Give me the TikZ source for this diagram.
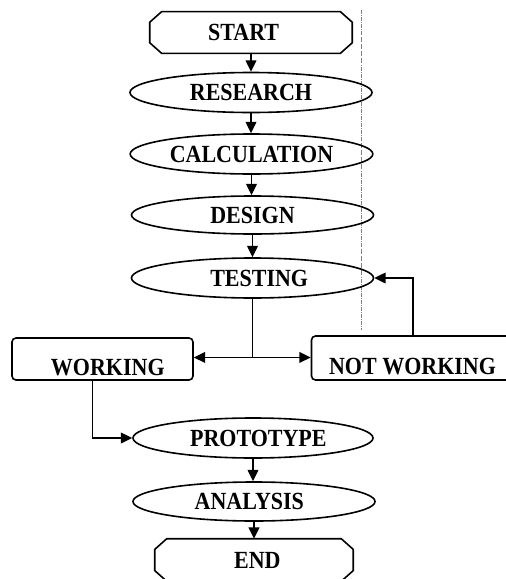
\documentclass[tikz,border=0pt]{standalone}
\usepackage{fontspec}
\usepackage{graphicx}
\setmainfont{Liberation Serif}
\usetikzlibrary{arrows.meta,shapes.geometric}
\newcommand{\lbl}[1]{\scalebox{1}[1.12]{#1}}
\begin{document}
\begin{tikzpicture}[x=0.75pt,y=-0.75pt,
  every node/.style={font=\bfseries\fontsize{16.5pt}{18pt}\selectfont, inner sep=0pt},
  oval/.style={ellipse, draw, line width=1.2pt, minimum width=181.5pt, minimum height=30pt},
  termbox/.style={rectangle, minimum width=150pt, minimum height=31pt},
  stepbox/.style={rectangle, draw, rounded corners=3pt, line width=1.2pt,
                  minimum height=31.5pt, text height=24pt, text depth=0pt},
  arr/.style={-{Triangle[length=8.5pt,width=8pt]}, line width=1.2pt},
  link/.style={line width=1.2pt},
  chamfer/.style={line width=1.2pt, line join=round}]
\useasboundingbox (0,0) rectangle (506,579);
\clip (0,0) rectangle (506,579);
\fill[white] (0,0) rectangle (506,579);

% faint dash-dotted guide line
\draw[gray, line width=0.3pt, densely dash dot] (361,10) -- (361,330);

% terminal boxes (outline drawn separately with chamfered corners)
\node[termbox, minimum width=151.5pt] (start) at (251,32.5) {\lbl{\hspace*{-11pt}START}};
\draw[chamfer] ([xshift=9pt]start.north west) -- ([xshift=-9pt]start.north east)
  -- ([yshift=-8pt]start.north east) -- ([yshift=8pt]start.south east)
  -- ([xshift=-9pt]start.south east) -- ([xshift=9pt]start.south west)
  -- ([yshift=8pt]start.south west) -- ([yshift=-8pt]start.north west) -- cycle;

\node[oval] (research) at (251,92.5) {\lbl{RESEARCH}};
\node[oval, minimum width=182pt] (calc) at (251.5,154) {\lbl{CALCULATION}};
\node[oval, minimum height=28.5pt] (design) at (252.5,215) {\lbl{DESIGN}};
\node[oval] (testing) at (252.5,278) {\lbl{\hspace*{10pt}TESTING}};

\node[stepbox, minimum width=135.75pt] (working) at (102.5,359) {\lbl{\hspace*{8pt}WORKING}};
\node[stepbox, minimum width=151.5pt, minimum height=33pt] (notw) at (412.5,358) {\lbl{NOT WORKING}};

\node[oval, minimum width=180pt] (proto) at (253,438) {\lbl{\hspace*{8pt}PROTOTYPE}};
\node[oval, minimum height=29.25pt] (analysis) at (254,501.5) {\lbl{\hspace*{-7pt}ANALYSIS}};

\node[termbox, minimum width=148.5pt, minimum height=31.5pt] (end) at (254,560) {\lbl{\hspace*{5pt}END}};
\draw[chamfer] ([xshift=9pt]end.north west) -- ([xshift=-9pt]end.north east)
  -- ([yshift=-8pt]end.north east) -- ([yshift=8pt]end.south east)
  -- ([xshift=-9pt]end.south east) -- ([xshift=9pt]end.south west)
  -- ([yshift=8pt]end.south west) -- ([yshift=-8pt]end.north west) -- cycle;

% main flow
\draw[arr] (start.south -| research.north) -- (research.north);
\draw[arr] (research.south) -- (research.south |- calc.north);
\draw[arr] (calc.south) -- (calc.south |- design.north);
\draw[arr] (design.south) -- (design.south |- testing.north);

% split after testing
\coordinate (split) at ([yshift=-44pt]testing.south);
\draw[link] (testing.south) -- (split);
\draw[arr] (split) -- (split -| working.east);
\draw[arr] (split) -- (split -| notw.west);

% retest loop
\draw[arr] ([xshift=76.5pt]notw.north west) |- (testing.east);

% working leads on to the prototype
\draw[arr] ([xshift=-7.5pt]working.south) |- (proto.west);
\draw[arr] (proto.south) -- (proto.south |- analysis.north);
\draw[arr] (analysis.south) -- (analysis.south |- end.north);
\end{tikzpicture}
\end{document}
